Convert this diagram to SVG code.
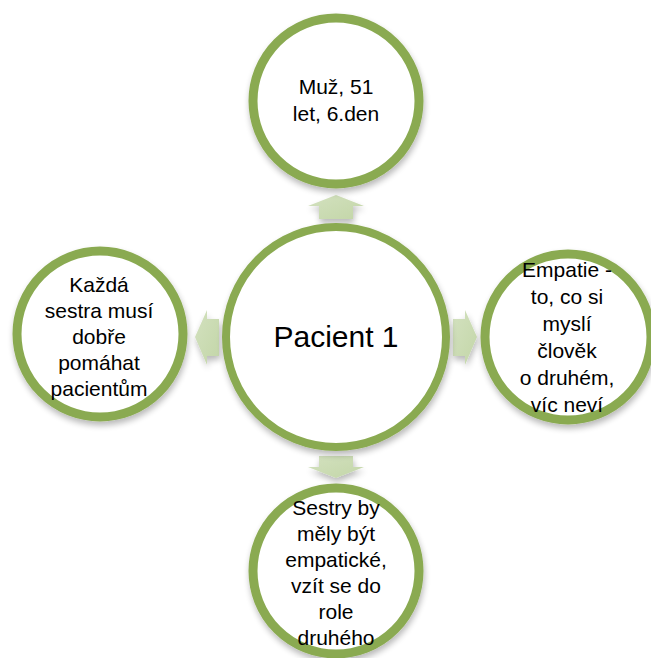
<svg xmlns="http://www.w3.org/2000/svg" width="651" height="658" viewBox="0 0 651 658">
  <defs>
    <filter id="shadow" x="-20%" y="-20%" width="150%" height="150%">
      <feGaussianBlur in="SourceAlpha" stdDeviation="3"/>
      <feOffset dx="1" dy="4" result="b"/>
      <feComponentTransfer><feFuncA type="linear" slope="0.28"/></feComponentTransfer>
      <feMerge><feMergeNode/><feMergeNode in="SourceGraphic"/></feMerge>
    </filter>
    <linearGradient id="arrowFill" x1="0" y1="0" x2="1" y2="1">
      <stop offset="0" stop-color="#d3e1bf"/>
      <stop offset="1" stop-color="#c3d6a8"/>
    </linearGradient>
  </defs>
  <style>
    .ring { fill: #ffffff; stroke: #8aaa51; stroke-width: 9; filter: url(#shadow); }
    .hub { fill: #ffffff; stroke: #8aaa51; stroke-width: 8; filter: url(#shadow); }
    .arrow { fill: url(#arrowFill); filter: url(#shadow); }
    .lbl { font-family: "Liberation Sans", Arial, sans-serif; font-size: 21px; fill: #000000; text-anchor: middle; }
    .main { font-family: "Liberation Sans", Arial, sans-serif; font-size: 30px; fill: #000000; text-anchor: middle; }
  </style>
  <rect width="651" height="658" fill="#ffffff"/>

  <g id="connectors">
    <!-- up -->
    <polygon class="arrow" points="336,195 364,206 353,206 353,219 319,219 319,206 308,206"/>
    <!-- left -->
    <polygon class="arrow" points="195,337 207,310 207,319 219,319 219,356 207,356 207,365"/>
    <!-- right -->
    <polygon class="arrow" points="477,337 465,310 465,319 453,319 453,356 465,356 465,365"/>
    <!-- down -->
    <polygon class="arrow" points="336,478 364,467 353,467 353,456 319,456 319,467 308,467"/>
  </g>

  <g id="center">
    <circle class="hub" cx="336" cy="337" r="110"/>
    <text class="main" x="336" y="347">Pacient 1</text>
  </g>

  <g id="top">
    <circle class="ring" cx="336" cy="101" r="83"/>
    <text class="lbl" x="336" y="94">Muž, 51</text>
    <text class="lbl" x="336" y="121">let, 6.den</text>
  </g>

  <g id="left">
    <circle class="ring" cx="100" cy="334" r="83"/>
    <text class="lbl" x="99" y="292">Každá</text>
    <text class="lbl" x="99" y="318">sestra musí</text>
    <text class="lbl" x="99" y="344">dobře</text>
    <text class="lbl" x="99" y="370">pomáhat</text>
    <text class="lbl" x="99" y="396">pacientům</text>
  </g>

  <g id="right">
    <circle class="ring" cx="568" cy="337" r="83"/>
    <text class="lbl" x="567" y="277">Empatie -</text>
    <text class="lbl" x="567" y="304">to, co si</text>
    <text class="lbl" x="567" y="331">myslí</text>
    <text class="lbl" x="567" y="358">člověk</text>
    <text class="lbl" x="567" y="385">o druhém,</text>
    <text class="lbl" x="567" y="412">víc neví</text>
  </g>

  <g id="bottom">
    <circle class="ring" cx="336" cy="571" r="83"/>
    <text class="lbl" x="336" y="515">Sestry by</text>
    <text class="lbl" x="336" y="541">měly být</text>
    <text class="lbl" x="336" y="567">empatické,</text>
    <text class="lbl" x="336" y="593">vzít se do</text>
    <text class="lbl" x="336" y="619">role</text>
    <text class="lbl" x="336" y="645">druhého</text>
  </g>
</svg>
